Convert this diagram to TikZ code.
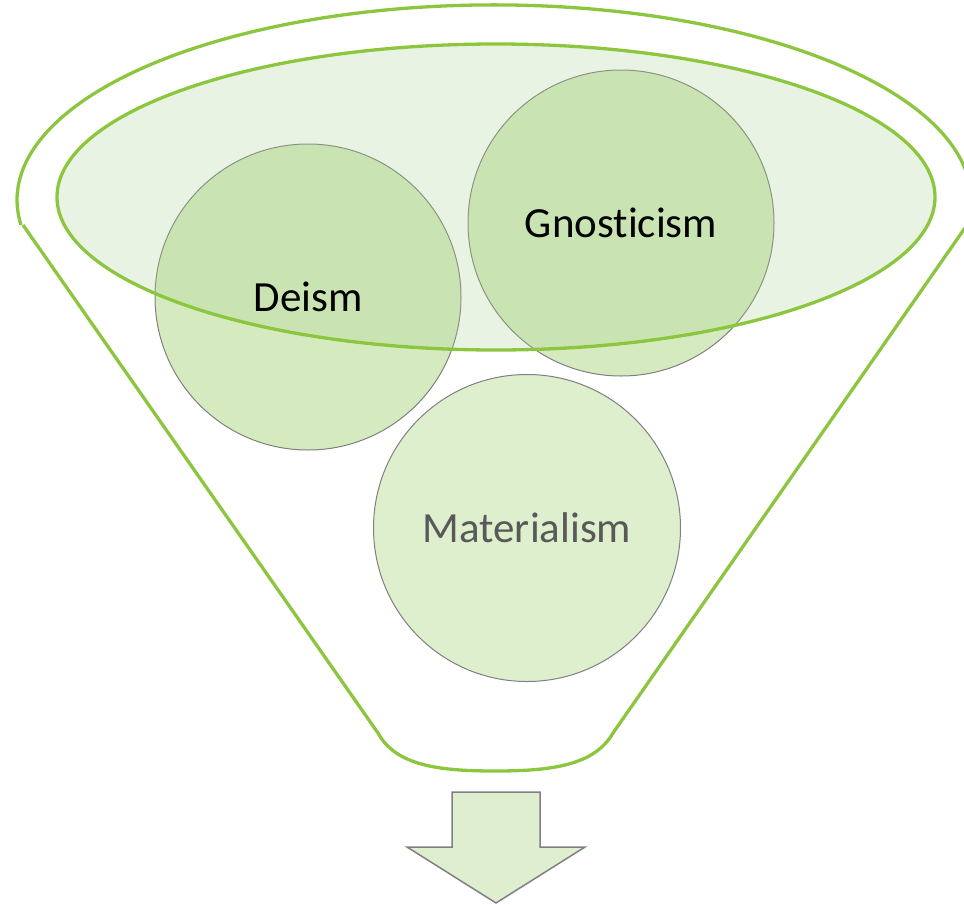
\documentclass[tikz,border=0pt]{standalone}
\usepackage{fontspec}
\setmainfont{Carlito}[Ligatures=NoCommon]
\definecolor{funnelgreen}{RGB}{140,198,63}
\definecolor{ellfill}{RGB}{169,209,142}
\definecolor{circA}{RGB}{213,235,191}
\definecolor{circB}{RGB}{222,239,206}
\definecolor{circline}{RGB}{128,128,128}
\definecolor{arrowfill}{RGB}{222,238,207}
\definecolor{txtgray}{RGB}{89,89,89}
\tikzset{
  funnelline/.style={draw=funnelgreen, line width=3.3pt, line join=round},
  ballA/.style={circle, draw=circline, line width=1pt, fill=circA, minimum size=306pt, inner sep=0pt},
  ballB/.style={circle, draw=circline, line width=1pt, fill=circB, minimum size=307pt, inner sep=0pt},
  balltext/.style={font=\fontsize{43}{50}\selectfont, inner sep=0pt},
  arrowshape/.style={draw=circline, line width=1.5pt, fill=arrowfill, line join=miter}
}
\begin{document}
\begin{tikzpicture}[x=1pt,y=-1pt]
\useasboundingbox (0,0) rectangle (964,905);
\clip (0,0) rectangle (964,905);
% outer funnel
\coordinate (ol) at (23,225);
\coordinate (bl) at (378,733);
\coordinate (bm) at (495,771);
\coordinate (br) at (613,733);
\coordinate (or) at (967,225);
\draw[funnelline] (ol) -- (bl) .. controls (396,766) and (440,771) .. (bm)
  .. controls (550,771) and (594,766) .. (br) -- (or)
  arc[start angle=7.4, end angle=-187.4, x radius=477, y radius=195];
% circles
\node[ballA] (deism) at (308,297) {};
\node[ballA] (gnost) at (621,223) {};
\node[ballB] (mater) at (527,528) {};
% inner ellipse
\draw[funnelline, fill=ellfill, fill opacity=0.25] (496,197) ellipse[x radius=439, y radius=153];
% labels
\node[balltext, text=black] (tdeism) at (deism.center) {Deism};
\node[balltext, text=black] (tgnost) at (gnost.center) {Gnosticism};
\node[balltext, text=txtgray] (tmater) at (mater.center) {Materialism};
% arrow
\draw[arrowshape] (452,792) -- (540,792) -- (540,847) -- (585,847) -- (496,903)
  -- (407,847) -- (452,847) -- cycle;
\end{tikzpicture}
\end{document}
